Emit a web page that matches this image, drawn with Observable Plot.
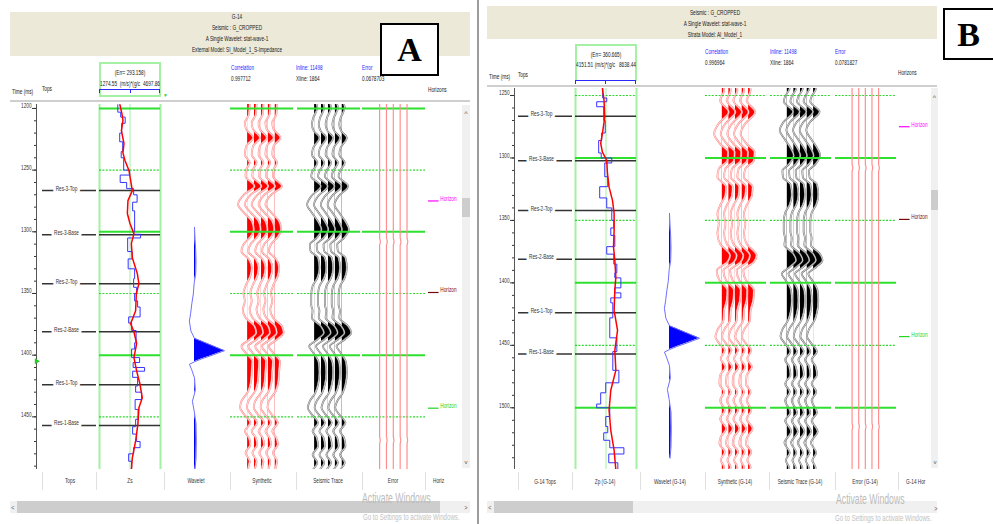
<!DOCTYPE html>
<html>
<head>
<meta charset="utf-8">
<script src="https://cdn.jsdelivr.net/npm/d3@7"></script>
<script src="https://cdn.jsdelivr.net/npm/@observablehq/plot@0.6"></script>
<style>
  html, body { margin: 0; padding: 0; background: #fff; }
  #page { position: relative; width: 993px; height: 524px; overflow: hidden; background: #fff; }
  .abs { position: absolute; }
  .lbl { position: absolute; white-space: nowrap; line-height: 1; }
</style>
</head>
<body>
<div id="page"></div>
<script>
// ---------- well tops and interpreted horizons (two-way time, ms) ----------
const topNames = ["Res-3-Top", "Res-3-Base", "Res-2-Top", "Res-2-Base", "Res-1-Top", "Res-1-Base"];
const topTimes = [1266.6, 1302.3, 1342.1, 1381.0, 1424.0, 1457.0];

const horizonNames = ["Horizon", "Horizon", "Horizon"];
const horizonTimes = [1275.0, 1349.2, 1443.0];
const horizonColors = ["#ff00ff", "#7a0a0a", "#22d622"];

// time grid and axis ticks
const gridMajor = [1200, 1300, 1400, 1500];
const gridMinor = [1250, 1350, 1450];
const timeTicksA = [1200, 1250, 1300, 1350, 1400, 1450];
const timeTicksB = [1250, 1300, 1350, 1400, 1450, 1500];
const cursorTimeA = 1405;

// ---------- impedance logs ----------
// S-impedance (Zs), track range in (m/s)*(g/cc)
const zsRange = [1274.55, 4697.86];
const zsBlueTime = [1197, 1203, 1207, 1212, 1220, 1227, 1235, 1240, 1250, 1254, 1260, 1265, 1270, 1276, 1283, 1300, 1302, 1305, 1316, 1322, 1330, 1338, 1345, 1350, 1356, 1361, 1369, 1374, 1380, 1390, 1395, 1402, 1406, 1410, 1413, 1418, 1425, 1430, 1436, 1444, 1452, 1458, 1464, 1470, 1475, 1480, 1486, 1493];
const zsBlueValue = [2302, 2464, 2715, 2520, 2408, 2576, 2492, 2632, 2967, 2436, 2799, 3190, 3385, 3134, 3246, 3190, 3581, 2855, 3106, 2883, 3246, 3190, 3358, 3246, 3414, 3553, 2911, 3078, 3329, 3246, 3078, 3525, 3162, 3804, 3134, 3414, 3302, 3637, 3274, 3441, 3302, 3134, 3358, 3553, 3190, 2911, 3078, 2967];
const zsRedTime = [1197, 1204, 1209.7, 1217.9, 1228.4, 1236, 1242.2, 1250.3, 1258.4, 1266.6, 1274.7, 1285.2, 1293.3, 1301.5, 1309.6, 1321, 1333.9, 1342, 1350.2, 1364, 1374.5, 1381, 1390.7, 1402, 1412.7, 1423.2, 1434.6, 1442.7, 1455.7, 1469.5, 1483.3, 1493];
const zsRedValue = [2420, 2530, 2592, 2503, 2648, 2590, 2704, 2928, 3022, 3117, 2872, 2838, 2983, 3207, 3062, 3117, 3397, 3486, 3341, 3302, 3022, 3207, 3358, 3207, 3358, 3542, 3676, 3486, 3430, 3302, 3117, 3062];

// P-impedance (Zp), track range in (m/s)*(g/cc)
const zpRange = [4151.51, 8638.44];
const zpBlueTime = [1244.5, 1252, 1255, 1259, 1270, 1280, 1286, 1296, 1300, 1304, 1315, 1323, 1332, 1340, 1350, 1356, 1362, 1371, 1377, 1385, 1392, 1396, 1404, 1408, 1412, 1416, 1422, 1428, 1444, 1455, 1470, 1480, 1488, 1497, 1500, 1507, 1515, 1520, 1526, 1532, 1537, 1544, 1549.5];
const zpBlueValue = [6154, 6450, 5709, 6228, 6339, 6080, 5857, 6042, 6821, 6302, 6524, 5931, 6450, 6821, 6970, 6747, 7044, 6450, 6970, 7192, 7044, 7489, 7044, 7489, 6747, 6895, 6895, 6673, 7192, 6895, 7341, 6376, 6005, 5709, 6673, 6376, 6524, 6228, 6673, 7711, 6599, 7266, 6821];
const zpRedTime = [1244.5, 1254, 1267.4, 1280.4, 1288.4, 1295.4, 1302, 1312.4, 1323.4, 1334, 1344.4, 1358, 1371.4, 1382, 1395.4, 1406, 1422, 1438, 1454, 1470, 1486, 1502, 1518, 1534, 1549.5];
const zpRedValue = [6132, 6250, 6302, 6132, 6005, 6132, 6450, 6502, 6621, 6873, 6992, 6992, 6947, 7044, 7118, 7044, 6992, 7244, 7044, 7118, 6747, 6621, 6747, 6992, 7118];

// ---------- statistical wavelet (lag in ms, normalised amplitude) ----------
const waveletLag = [-100, -90, -82, -72, -62, -55, -46, -38, -30, -24, -16, -10, -8, -4, 0, 4, 6.5, 9, 11, 15, 22, 32, 41, 49, 59, 73, 87, 96];
const waveletAmp = [0, 0.02, 0.04, 0.05, 0.04, -0.01, -0.04, -0.09, -0.13, -0.17, -0.12, 0, 0.2, 0.6, 1.0, 0.55, 0.25, 0, -0.17, -0.1, 0, 0.03, -0.07, -0.01, 0.05, 0.06, 0.05, 0.02];
const waveletCenterA = 1396.4;
const waveletCenterB = 1444.4;

// ---------- traces (amplitude in trace-spacing units) ----------
const synthATime = [1196.8, 1204.9, 1211.6, 1217, 1223.8, 1230.5, 1237.3, 1244, 1249.5, 1254.9, 1263, 1269.7, 1277.8, 1284.6, 1291.4, 1298.1, 1303.5, 1310.3, 1315.7, 1322.4, 1329.2, 1335.9, 1342.7, 1349.5, 1356.2, 1363, 1369.7, 1376.5, 1381.9, 1387.3, 1392.7, 1398.1, 1404.9, 1413, 1421, 1429.2, 1437.3, 1442.7, 1448.1, 1454.9, 1461.6, 1467, 1472.4, 1479.2, 1486, 1491.4, 1495];
const synthAAmp = [0.3, 0.2, -0.4, -0.2, 0.8, -0.2, -0.4, 0.3, -0.2, -0.3, 1.0, -0.5, -1.4, -0.5, 0.6, 0.9, 0.5, -0.6, -0.9, 0.2, 0.6, 0.4, -0.2, -0.6, -0.4, -0.7, -0.3, 1.0, 1.25, 0.3, -0.9, -0.3, 0.7, 0.6, 0.5, 0.1, -0.9, -1.1, -0.5, 0.4, -0.4, 0.2, 0.4, -0.3, 0.3, 0.1, 0];

const synthBTime = [1240, 1246, 1254, 1263.3, 1272.4, 1280.7, 1288.7, 1295.3, 1302, 1308.7, 1315.3, 1323.3, 1330, 1338, 1344.7, 1352.7, 1360.7, 1368.7, 1378, 1383.3, 1390, 1398, 1406, 1414, 1422, 1430, 1436.7, 1443.3, 1448.7, 1454, 1460.7, 1467.3, 1474, 1480.7, 1487.3, 1494, 1502, 1508.7, 1516.7, 1523.3, 1528.7, 1535.3, 1542, 1547.3, 1551];
const synthBAmp = [0.1, 0.3, -0.3, 1.0, -0.5, -1.2, -0.3, 0.9, 0.8, -0.5, -0.7, 0.6, 0.5, -0.3, -0.7, -0.5, -0.7, -0.3, 1.2, 0.8, -0.8, -0.4, 0.8, 0.7, 0.3, 0.2, -0.6, -1.0, -0.4, 0.4, -0.2, 0.5, -0.3, -0.4, 0.3, -0.3, 0.4, -0.3, 0.6, -0.2, -0.4, 0.4, -0.2, 0.3, 0];

const seismicTime = [1196.8, 1199.5, 1207.6, 1213, 1218.4, 1223.8, 1231.9, 1237.3, 1244, 1250.8, 1254.9, 1263, 1271.1, 1277.8, 1284.6, 1292.7, 1298.1, 1304.9, 1310.3, 1315.7, 1321.1, 1329.2, 1337.3, 1344.1, 1350.8, 1358.9, 1364.3, 1369.7, 1376.5, 1381.9, 1387.3, 1392.7, 1398.1, 1406.2, 1414.3, 1423.8, 1430.5, 1437.3, 1442.7, 1448.1, 1454.9, 1461.6, 1467, 1473.8, 1480.5, 1487.3, 1494, 1504, 1510, 1519, 1528, 1536, 1542, 1548, 1552];
const seismicAmp = [0.3, 0.4, -0.2, -0.4, -0.1, 0.7, -0.2, -0.4, 0.4, -0.3, -0.5, 0.9, -0.5, -1.1, -0.4, 0.6, 1.0, 0.3, -0.7, -0.6, 0.5, 0.7, 0.4, -0.3, -0.5, -0.5, -0.3, -0.4, 0.9, 1.35, 0.4, -0.8, -0.2, 0.6, 0.7, 0.5, 0.1, -0.7, -1.0, -0.4, 0.5, -0.3, 0.3, 0.5, -0.3, 0.4, -0.3, 0.5, -0.3, 0.6, -0.4, 0.4, -0.2, 0.3, 0];

const errorATime = [1196, 1305, 1308, 1311, 1466, 1469, 1472, 1494];
const errorAAmp = [0, 0, 0.12, 0, 0, 0.1, 0, 0];
const errorBTime = [1244, 1305, 1308, 1311, 1512, 1515, 1518, 1550];
const errorBAmp = [0, 0, 0.12, 0, 0, 0.1, 0, 0];

// ---------- drawing helpers ----------
const page = document.getElementById("page");
const FONT = '"Liberation Sans", Arial, sans-serif';
const SERIF = '"Liberation Serif", "DejaVu Serif", serif';
const SQUEEZE = 0.63;
const BEIGE = "#ece9d8";
const LINK = "#1f1fff";
const TRACE_DOMAIN = [-2.5, 6.7];
const TRACE_COUNT = 5;

function box(x, y, w, h, css = {}) {
  const d = document.createElement("div");
  d.className = "abs";
  Object.assign(d.style, {left: x + "px", top: y + "px", width: w + "px", height: h + "px"}, css);
  page.append(d);
  return d;
}

function label(text, x, y, opts = {}) {
  const {size = 7.5, color = "#1a1a1a", anchor = "start", sx = SQUEEZE, family = FONT, weight = "normal"} = opts;
  const p = anchor === "middle" ? 0.5 : anchor === "end" ? 1 : 0;
  const d = document.createElement("div");
  d.className = "lbl";
  d.textContent = text;
  Object.assign(d.style, {
    left: x + "px", top: y + "px", fontSize: size + "px", color, fontFamily: family, fontWeight: weight,
    transform: `translate(${-p * 100}%, -50%) scaleX(${sx})`, transformOrigin: `${p * 100}% 50%`
  });
  page.append(d);
  return d;
}

// narrow every SVG text around its own anchor point
function squeezeText(svg, sx = SQUEEZE) {
  svg.querySelectorAll("text").forEach(t => {
    const x = +t.getAttribute("x") || 0, y = +t.getAttribute("y") || 0;
    const tr = t.getAttribute("transform") || "";
    t.setAttribute("x", 0);
    t.setAttribute("y", 0);
    t.setAttribute("transform", `${tr} translate(${x},${y}) scale(${sx},1)`);
  });
}

// keep only the positive lobe of each wiggle fill (right of its baseline)
let clipCount = 0;
function clipPositive(svg, baselines, xDomain, width, height) {
  const ns = "http://www.w3.org/2000/svg";
  const [d0, d1] = xDomain;
  const defs = document.createElementNS(ns, "defs");
  svg.prepend(defs);
  svg.querySelectorAll('g[aria-label="area"] path').forEach((p, i) => {
    const id = "wiggle-clip-" + (clipCount++);
    const cp = document.createElementNS(ns, "clipPath");
    cp.setAttribute("id", id);
    const r = document.createElementNS(ns, "rect");
    r.setAttribute("x", (baselines[i] - d0) / (d1 - d0) * width);
    r.setAttribute("y", -10);
    r.setAttribute("width", width * 2);
    r.setAttribute("height", height + 20);
    cp.append(r);
    defs.append(cp);
    p.setAttribute("clip-path", `url(#${id})`);
  });
}

function track(left, top, width, height, yDomain, xDomain, marks) {
  const svg = Plot.plot({
    width, height, margin: 0,
    x: {domain: xDomain, axis: null},
    y: {domain: yDomain, reverse: true, axis: null},
    color: {type: "identity"},
    style: {background: "transparent", overflow: "visible", fontFamily: FONT, fontSize: "7.5px"},
    marks
  });
  Object.assign(svg.style, {position: "absolute", left: left + "px", top: top + "px"});
  page.append(svg);
  squeezeText(svg);
  return svg;
}

function gridMarks(yDomain) {
  const inside = v => v >= yDomain[0] && v <= yDomain[1];
  return [
    Plot.ruleY(gridMajor.filter(inside), {stroke: "#2fe02f", strokeWidth: 2}),
    Plot.ruleY(gridMinor.filter(inside), {stroke: "#2fd62f", strokeWidth: 1.2, strokeDasharray: "2,1.4"})
  ];
}

function traceRows(times, amps) {
  const rows = [];
  for (let k = 0; k < TRACE_COUNT; k++) times.forEach((t, i) => rows.push({k, t, a: amps[i]}));
  return rows;
}

function traceMarks(rows, fill, edge, edgeWidth = 1.9) {
  const xw = d => d.k + d.a;
  return [
    Plot.areaX(rows, {y: "t", x1: "k", x2: xw, z: "k", fill, curve: "monotone-y", clip: true}),
    Plot.lineX(rows, {y: "t", x: xw, z: "k", stroke: edge, strokeWidth: edgeWidth, curve: "monotone-y", clip: true}),
    Plot.lineX(rows, {y: "t", x: xw, z: "k", stroke: "white", strokeWidth: 0.7, curve: "monotone-y", clip: true})
  ];
}

function pairs(times, values) {
  return times.map((t, i) => ({t, v: values[i]}));
}

const topRows = topNames.map((name, i) => ({name, t: topTimes[i]}));
const horizonRows = horizonNames.map((name, i) => ({name, t: horizonTimes[i], color: horizonColors[i]}));

// ---------- one well-tie panel ----------
function drawPanel(c) {
  const {top, height, yDomain} = c;

  // time axis
  const axis = Plot.plot({
    width: 40, height, marginLeft: 36, marginRight: 4, marginTop: 0, marginBottom: 0,
    y: {domain: yDomain, reverse: true},
    style: {background: "transparent", overflow: "visible", fontFamily: FONT, fontSize: "7.5px", color: "#333"},
    marks: [
      Plot.axisY({ticks: d3.range(Math.ceil(yDomain[0] / 10) * 10, yDomain[1], 10), tickSize: 2, text: null}),
      Plot.axisY({ticks: c.ticks, tickSize: 4, tickPadding: 1, tickFormat: "d"})
    ]
  });
  Object.assign(axis.style, {position: "absolute", left: c.axisX - 36 + "px", top: top + "px"});
  page.append(axis);
  squeezeText(axis);
  box(c.axisX, top, 1, height, {background: "#555"});

  // tops
  track(c.tops[0], top, c.tops[1], height, yDomain, [0, 1], [
    Plot.ruleY(topRows, {y: "t", stroke: "#333", strokeWidth: 1.5}),
    Plot.text(topRows, {y: "t", text: "name", frameAnchor: "middle", dx: c.topsDx, fill: "#333", stroke: "white", strokeWidth: 9, fontSize: 7.5})
  ]);

  // impedance log
  const [l0, l1] = c.log.range;
  track(c.log.left, top, c.log.width, height, yDomain, c.log.range, [
    Plot.ruleX([l0, l1], {stroke: "#a4f0a4", strokeWidth: 2}),
    Plot.ruleX([(l0 + l1) / 2], {stroke: "#a4f0a4", strokeWidth: 1}),
    ...gridMarks(yDomain),
    Plot.ruleY(topRows, {y: "t", stroke: "#333", strokeWidth: 1.5}),
    Plot.lineX(c.log.blue, {x: "v", y: "t", curve: "step-before", stroke: "#3535ff", strokeWidth: 1, clip: true}),
    Plot.lineX(c.log.red, {x: "v", y: "t", stroke: "#ff0000", strokeWidth: 1.5, clip: true})
  ]);

  // wavelet
  const wav = waveletLag.map((lag, i) => ({t: c.waveletCenter + lag, a: waveletAmp[i]}));
  const wDomain = [-1, 1.1];
  const wsvg = track(c.wavelet[0], top, c.wavelet[1], height, yDomain, wDomain, [
    Plot.areaX(wav, {y: "t", x1: 0, x2: "a", fill: "#0000ff", clip: true}),
    Plot.lineX(wav, {y: "t", x: "a", stroke: "#6f6fff", strokeWidth: 1, clip: true})
  ]);
  clipPositive(wsvg, [0], wDomain, c.wavelet[1], height);

  const bases = d3.range(TRACE_COUNT);

  // synthetic
  const ssvg = track(c.synth[0], top, c.synth[1], height, yDomain, TRACE_DOMAIN, [
    ...traceMarks(c.synthRows, "#ff0000", "#ff8a8a"),
    ...gridMarks(yDomain)
  ]);
  clipPositive(ssvg, bases, TRACE_DOMAIN, c.synth[1], height);

  // seismic trace
  const tsvg = track(c.seis[0], top, c.seis[1], height, yDomain, TRACE_DOMAIN, [
    ...traceMarks(c.seisRows, "#000000", "#6e6e6e", 1.8),
    ...gridMarks(yDomain)
  ]);
  clipPositive(tsvg, bases, TRACE_DOMAIN, c.seis[1], height);

  // error
  track(c.err[0], top, c.err[1], height, yDomain, TRACE_DOMAIN, [
    ...gridMarks(yDomain),
    Plot.lineX(c.errRows, {y: "t", x: d => d.k + d.a, z: "k", stroke: "#ff8f8f", strokeWidth: 1.2, clip: true})
  ]);

  // horizons
  track(c.hor[0], top, c.hor[1], height, yDomain, [0, 1], [
    Plot.ruleY(horizonRows, {y: "t", x1: 0, x2: 0.33, stroke: "color", strokeWidth: 1.2}),
    Plot.text(horizonRows, {y: "t", x: 0.37, text: "name", fill: "color", textAnchor: "start", fontSize: 7.5})
  ]);
}

// ---------- panel A : S-impedance tie ----------
const yDomainA = [1196.8, 1492.7];
drawPanel({
  top: 104, height: 365, yDomain: yDomainA, ticks: timeTicksA,
  axisX: 36, tops: [42, 54], topsDx: -3,
  log: {left: 99, width: 61, range: zsRange, blue: pairs(zsBlueTime, zsBlueValue), red: pairs(zsRedTime, zsRedValue)},
  wavelet: [164, 63], waveletCenter: waveletCenterA,
  synth: [230, 63], synthRows: traceRows(synthATime, synthAAmp),
  seis: [297, 63], seisRows: traceRows(seismicTime, seismicAmp),
  err: [362, 63], errRows: traceRows(errorATime, errorAAmp),
  hor: [428, 32]
});

// cursor marker on the panel A time axis
track(30, 104, 12, 365, yDomainA, [0, 1], [
  Plot.dot([cursorTimeA], {y: d => d, x: 0.5, symbol: "triangle", r: 2.2, fill: "#22cc22", rotate: 90})
]);

// ---------- panel B : acoustic-impedance tie ----------
drawPanel({
  top: 88, height: 381, yDomain: [1244.4, 1549.4], ticks: timeTicksB,
  axisX: 514, tops: [518, 54], topsDx: -4,
  log: {left: 575, width: 61, range: zpRange, blue: pairs(zpBlueTime, zpBlueValue), red: pairs(zpRedTime, zpRedValue)},
  wavelet: [639, 63], waveletCenter: waveletCenterB,
  synth: [705, 61], synthRows: traceRows(synthBTime, synthBAmp),
  seis: [770, 61], seisRows: traceRows(seismicTime, seismicAmp),
  err: [835, 61], errRows: traceRows(errorBTime, errorBAmp),
  hor: [899, 32]
});

// ---------- headers ----------
// panel A title band
box(10, 12, 460, 44, {background: BEIGE});
["G-14", "Seismic : G_CROPPED", "A Single Wavelet: stat-wave-1", "External Model: SI_Model_1_S-Impedance"]
  .forEach((s, i) => label(s, 237, 16.5 + i * 11.2, {anchor: "middle"}));
label("Time (ms)", 12, 92);
label("Tops", 42, 89);
box(98.5, 61.5, 62, 35.5, {border: "2px solid #a4f0a4", boxSizing: "border-box"});
label("(Err= 293.158)", 129.5, 73, {anchor: "middle"});
label(zsRange[0].toFixed(2), 100, 84);
label("(m/s)*(g/c", 130, 84, {anchor: "middle"});
label(zsRange[1].toFixed(2), 159.5, 84, {anchor: "end"});
box(99, 88.5, 61, 1.5, {background: "#2a2aff"});
[99, 129.5, 159].forEach(x => box(x, 88.5, 1, 4, {background: "#2a2aff"}));
label("▼", 165.5, 94.5, {size: 5, color: "#2bd42b", sx: 1, anchor: "middle"});
label("Correlation", 231, 68, {color: LINK});
label("0.997712", 231, 79);
label("Inline: 11498", 296, 68, {color: LINK});
label("Xline: 1864", 296, 79);
label("Error", 362, 68, {color: LINK});
label("0.0678703", 362, 79);
label("Horizons", 428, 90);
box(10, 100, 460, 2, {background: "#cfcfcf"});

// panel B title band
box(487, 6, 450, 33, {background: BEIGE});
["Seismic : G_CROPPED", "A Single Wavelet: stat-wave-1", "Strata Model: AI_Model_1"]
  .forEach((s, i) => label(s, 715, 12.5 + i * 11.3, {anchor: "middle"}));
label("Time (ms)", 489, 77);
label("Tops", 518, 75);
box(574.5, 44, 62, 37, {border: "2px solid #a4f0a4", borderBottom: "none", boxSizing: "border-box"});
label("(Err= 360.665)", 605.5, 54.5, {anchor: "middle"});
label(zpRange[0].toFixed(2), 576, 64.5);
label("(m/s)*(g/c", 605, 64.5, {anchor: "middle"});
label(zpRange[1].toFixed(2), 636, 64.5, {anchor: "end"});
box(575, 79.5, 61, 1.5, {background: "#2a2aff"});
[575, 605, 635].forEach(x => box(x, 79.5, 1, 4, {background: "#2a2aff"}));
label("Correlation", 705, 51.5, {color: LINK});
label("0.996964", 705, 62.5);
label("Inline: 11498", 770, 51.5, {color: LINK});
label("Xline: 1864", 770, 62.5);
label("Error", 835, 51.5, {color: LINK});
label("0.0781827", 835, 62.5);
label("Horizons", 898, 73);
box(487, 84.5, 450, 2, {background: "#cfcfcf"});

// ---------- footers: track names ----------
[42, 96, 164, 230, 296, 362, 425].forEach(x => box(x, 472, 1, 18, {background: "#e0e0e0"}));
[["Tops", 70], ["Zs", 130], ["Wavelet", 196], ["Synthetic", 262], ["Seismic Trace", 328], ["Error", 393]]
  .forEach(([s, x]) => label(s, x, 481, {anchor: "middle", color: "#333"}));
label("Horiz", 433, 481, {color: "#333"});

[518, 572, 640, 705, 769, 835, 898].forEach(x => box(x, 472, 1, 18, {background: "#e0e0e0"}));
[["G-14 Tops", 545], ["Zp (G-14)", 605], ["Wavelet (G-14)", 670], ["Synthetic (G-14)", 735], ["Seismic Trace (G-14)", 800], ["Error (G-14)", 865]]
  .forEach(([s, x]) => label(s, x, 482, {anchor: "middle", color: "#333"}));
label("G-14 Hor", 906, 482, {color: "#333"});

// ---------- scrollbars ----------
box(462, 105, 8, 363, {background: "#f0f0f0"});
box(462, 198, 8, 19, {background: "#cdcdcd"});
label("^", 466, 113, {size: 7, color: "#555", anchor: "middle", sx: 1});
label("v", 466, 462, {size: 6, color: "#555", anchor: "middle", sx: 1});
box(931, 88, 7, 380, {background: "#f0f0f0"});
box(931, 190, 7, 20, {background: "#cdcdcd"});
label("^", 934.5, 97, {size: 7, color: "#555", anchor: "middle", sx: 1});
label("v", 935, 462, {size: 6, color: "#555", anchor: "middle", sx: 1});

box(10, 501, 460, 12, {background: "#f0f0f0"});
box(17, 501, 423, 12, {background: "#cdcdcd"});
label("<", 12.5, 507, {size: 7, color: "#555", anchor: "middle", sx: 0.8});
label(">", 466, 507, {size: 7, color: "#555", anchor: "middle", sx: 0.8});
box(487, 501, 450, 12, {background: "#f0f0f0"});
box(494, 501, 139, 12, {background: "#cdcdcd"});
label("<", 490, 507, {size: 7, color: "#555", anchor: "middle", sx: 0.8});
label(">", 936, 508, {size: 7, color: "#555", anchor: "middle", sx: 0.8});

// panel divider
box(477, 0, 2, 524, {background: "#9c9c9c"});

// panel letters
box(380, 23, 59, 53, {background: "#fff", border: "2px solid #000", boxSizing: "border-box"});
label("A", 409.5, 50, {size: 34, family: SERIF, weight: "bold", anchor: "middle", color: "#000", sx: 1});
box(943, 8, 60, 52, {background: "#fff", border: "2px solid #000", boxSizing: "border-box"});
label("B", 968.5, 35, {size: 34, family: SERIF, weight: "bold", anchor: "middle", color: "#000", sx: 1});

// desktop watermark
label("Activate Windows", 362, 498, {size: 14, color: "#bcbcbc", sx: 0.62});
label("Go to Settings to activate Windows.", 363, 517, {size: 9, color: "#c2c2c2", sx: 0.68});
label("Activate Windows", 836, 499, {size: 14, color: "#bcbcbc", sx: 0.62});
label("Go to Settings to activate Windows.", 835, 518, {size: 9, color: "#c2c2c2", sx: 0.68});
</script>
</body>
</html>
